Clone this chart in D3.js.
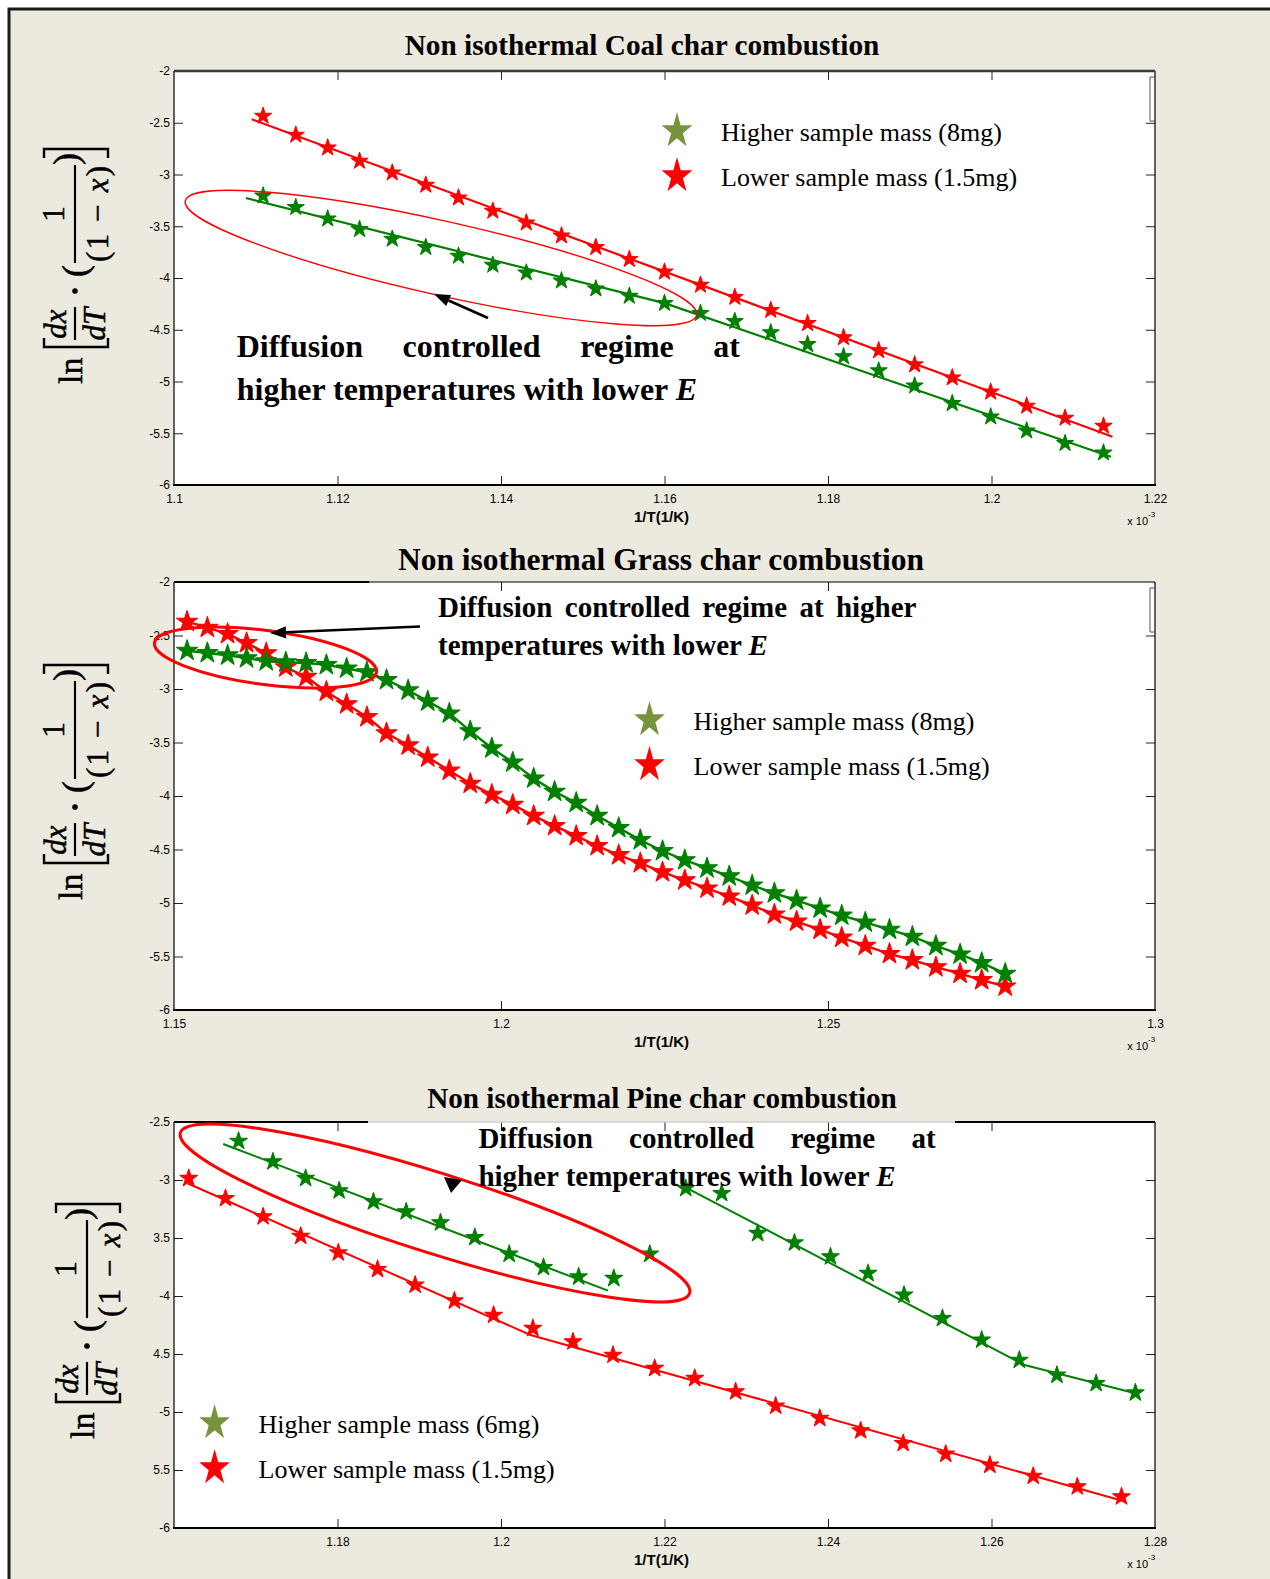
<!DOCTYPE html>
<html>
<head>
<meta charset="utf-8">
<script src="https://cdn.jsdelivr.net/npm/d3@7"></script>
<style>
  body { margin: 0; background: #fff; }
  svg { display: block; }
</style>
</head>
<body>
<svg id="fig" width="1270" height="1579"></svg>
<script>
// ---------- Coal char (x in 1e-3 1/K) ----------
const coalX = [1.1109, 1.1149, 1.1188, 1.1227, 1.1267, 1.1308, 1.1348, 1.1390, 1.1431, 1.1474, 1.1516, 1.1557,
               1.1600, 1.1644, 1.1686, 1.1730, 1.1775, 1.1819, 1.1862, 1.1906, 1.1952, 1.1999, 1.2043, 1.2090, 1.2137];
const coalHigh = [-3.205, -3.317, -3.427, -3.529, -3.623, -3.703, -3.787, -3.874, -3.949, -4.026, -4.103, -4.174,
                  -4.243, -4.340, -4.418, -4.526, -4.641, -4.759, -4.895, -5.041, -5.211, -5.340, -5.475, -5.597, -5.688];
const coalLow = [-2.435, -2.618, -2.741, -2.870, -2.983, -3.101, -3.224, -3.353, -3.466, -3.591, -3.703, -3.819,
                 -3.941, -4.068, -4.185, -4.311, -4.438, -4.574, -4.700, -4.837, -4.963, -5.100, -5.236, -5.353, -5.430];
const coalFitHighX = [1.1088, 1.1600, 1.2146];
const coalFitHigh = [-3.227, -4.243, -5.727];
const coalFitLowX = [1.1095, 1.2148];
const coalFitLow = [-2.467, -5.534];
const coalXTicks = [1.1, 1.12, 1.14, 1.16, 1.18, 1.2, 1.22];
const coalYTicks = [-6, -5.5, -5, -4.5, -4, -3.5, -3, -2.5, -2];

// ---------- Grass char ----------
const grassX = [1.1520, 1.1551, 1.1582, 1.1611, 1.1641, 1.1671, 1.1702, 1.1733, 1.1764, 1.1795, 1.1825, 1.1858, 1.1888,
                1.1921, 1.1953, 1.1986, 1.2018, 1.2050, 1.2082, 1.2115, 1.2147, 1.2180, 1.2213, 1.2247, 1.2281, 1.2315,
                1.2349, 1.2384, 1.2418, 1.2452, 1.2488, 1.2521, 1.2557, 1.2594, 1.2629, 1.2665, 1.2702, 1.2735, 1.2771];
const grassHigh = [-2.642, -2.663, -2.685, -2.712, -2.740, -2.750, -2.757, -2.775, -2.808, -2.843, -2.915, -3.012, -3.115,
                   -3.228, -3.394, -3.554, -3.686, -3.836, -3.959, -4.063, -4.185, -4.298, -4.411, -4.514, -4.599, -4.675,
                   -4.750, -4.835, -4.909, -4.976, -5.050, -5.117, -5.182, -5.249, -5.314, -5.400, -5.480, -5.560, -5.660];
const grassLow = [-2.370, -2.426, -2.485, -2.570, -2.665, -2.797, -2.886, -3.025, -3.142, -3.262, -3.413, -3.526, -3.639,
                  -3.762, -3.884, -3.987, -4.081, -4.185, -4.279, -4.373, -4.467, -4.552, -4.627, -4.712, -4.787, -4.863,
                  -4.938, -5.022, -5.107, -5.173, -5.249, -5.323, -5.399, -5.475, -5.533, -5.600, -5.660, -5.720, -5.780];
const grassXTicks = [1.15, 1.2, 1.25, 1.3];
const grassYTicks = [-6, -5.5, -5, -4.5, -4, -3.5, -3, -2.5, -2];

// ---------- Pine char ----------
const pineHighX = [1.1679, 1.1721, 1.1761, 1.1802, 1.1844, 1.1884, 1.1926, 1.1968, 1.2010, 1.2052, 1.2095, 1.2138, 1.2182,
                   1.2226, 1.2270, 1.2314, 1.2359, 1.2403, 1.2449, 1.2493, 1.2540, 1.2588, 1.2634, 1.2680, 1.2728, 1.2776];
const pineHigh = [-2.664, -2.842, -2.985, -3.092, -3.187, -3.273, -3.368, -3.494, -3.638, -3.753, -3.834, -3.847, -3.638,
                  -3.072, -3.115, -3.459, -3.541, -3.661, -3.804, -3.991, -4.192, -4.379, -4.552, -4.681, -4.753, -4.834];
const pineLowX = [1.1618, 1.1663, 1.1709, 1.1755, 1.1801, 1.1849, 1.1895, 1.1943, 1.1991, 1.2039, 1.2088, 1.2137,
                  1.2188, 1.2237, 1.2287, 1.2336, 1.2390, 1.2440, 1.2492, 1.2544, 1.2598, 1.2651, 1.2705, 1.2759];
const pineLow = [-2.985, -3.158, -3.316, -3.483, -3.627, -3.770, -3.905, -4.041, -4.164, -4.278, -4.394, -4.509,
                 -4.623, -4.709, -4.825, -4.948, -5.054, -5.161, -5.270, -5.362, -5.457, -5.552, -5.644, -5.730];
const pineFitHigh1X = [1.16602, 1.21309];
const pineFitHigh1 = [-2.690, -3.954];
const pineFitHigh2X = [1.22257, 1.26405, 1.27792];
const pineFitHigh2 = [-3.063, -4.595, -4.845];
const pineFitLowX = [1.16165, 1.20361, 1.27644];
const pineFitLow = [-3.028, -4.336, -5.773];
const pineXTicks = [1.16, 1.18, 1.2, 1.22, 1.24, 1.26, 1.28];
const pineYTicks = [-6, -5.5, -5, -4.5, -4, -3.5, -3, -2.5];
const pineYTickLabels = ["-6", "5.5", "-5", "4.5", "-4", "3.5", "-3", "-2.5"];

// ---------- styling ----------
const SERIF = "'Liberation Serif', 'Times New Roman', serif";
const SANS = "'Liberation Sans', Arial, sans-serif";
const GREEN = "#008000", RED = "#ff0000", OLIVE = "#77933c";
const X0 = 174, X1 = 1155;

const svg = d3.select("#fig");
svg.append("rect").attr("x", 8).attr("y", 8).attr("width", 1262).attr("height", 1571).attr("fill", "#ECE9DF");
svg.append("path").attr("d", "M9,1579 V9 H1270").attr("fill", "none").attr("stroke", "#1a1a1a").attr("stroke-width", 3);

const zip = (xs, ys) => xs.map((v, i) => [v, ys[i]]);
const starPath = r => d3.symbol().type(d3.symbolStar).size(r * r / 0.8908)();

function panel(cfg) {
  const x = d3.scaleLinear().domain(cfg.xDomain).range([X0, X1]);
  const y = d3.scaleLinear().domain(cfg.yDomain).range([cfg.bottom, cfg.top]);
  const g = svg.append("g");
  g.append("rect").attr("x", X0).attr("y", cfg.top).attr("width", X1 - X0).attr("height", cfg.bottom - cfg.top)
    .attr("fill", "#fff");

  const styleAxis = a => {
    a.select(".domain").remove();
    a.selectAll(".tick line").attr("stroke", "#222").attr("stroke-width", 1);
    a.selectAll(".tick text").attr("font-family", SANS).attr("font-size", 12).attr("fill", "#000");
  };
  const inner = cfg.xTicks.filter(v => v > cfg.xDomain[0] + 1e-9 && v < cfg.xDomain[1] - 1e-9);
  g.append("g").attr("transform", `translate(0,${cfg.bottom})`)
    .call(d3.axisBottom(x).tickValues(inner).tickSizeInner(-9).tickSizeOuter(0).tickFormat(""))
    .call(styleAxis);
  g.append("g").attr("transform", `translate(0,${cfg.top})`)
    .call(d3.axisTop(x).tickValues(inner).tickSizeInner(-9).tickSizeOuter(0).tickFormat(""))
    .call(styleAxis);
  g.append("g").attr("transform", `translate(0,${cfg.bottom})`)
    .call(d3.axisBottom(x).tickValues(cfg.xLabels).tickSize(0).tickPadding(9.5)
      .tickFormat(d => String(+d.toFixed(2))))
    .call(styleAxis);
  const yInner = cfg.yTicks.filter(v => v > cfg.yDomain[0] + 1e-9 && v < cfg.yDomain[1] - 1e-9);
  g.append("g").attr("transform", `translate(${X0},0)`)
    .call(d3.axisLeft(y).tickValues(yInner).tickSizeInner(-9).tickSizeOuter(0).tickFormat(""))
    .call(styleAxis);
  g.append("g").attr("transform", `translate(${X1},0)`)
    .call(d3.axisRight(y).tickValues(yInner).tickSizeInner(-9).tickSizeOuter(0).tickFormat(""))
    .call(styleAxis);
  g.append("g").attr("transform", `translate(${X0},0)`)
    .call(d3.axisLeft(y).tickValues(cfg.yTicks).tickSize(0).tickPadding(4)
      .tickFormat((d, i) => cfg.yTickLabels ? cfg.yTickLabels[i] : String(d)))
    .call(styleAxis);

  // axis caption and exponent
  g.append("text").attr("x", (X0 + X1) / 2 - 3).attr("y", cfg.bottom + 37).attr("text-anchor", "middle")
    .attr("font-family", SANS).attr("font-weight", "bold").attr("font-size", 15).text("1/T(1/K)");
  g.append("text").attr("x", X1 - 7).attr("y", cfg.bottom + 40).attr("text-anchor", "end")
    .attr("font-family", SANS).attr("font-size", 11).text("x 10");
  g.append("text").attr("x", X1 - 7).attr("y", cfg.bottom + 32).attr("font-family", SANS).attr("font-size", 8)
    .text("-3");

  // title
  svg.append("text").attr("x", cfg.titleX).attr("y", cfg.titleY).attr("text-anchor", "middle")
    .attr("font-family", SERIF).attr("font-weight", "bold").attr("font-size", cfg.titleSize).text(cfg.title);

  yLabel(cfg.labelCx, cfg.labelCy);
  return { g, x, y };
}

function borders(g, cfg, topStyle) {
  const line = (x1, y1, x2, y2, c, w) => g.append("line").attr("x1", x1).attr("y1", y1).attr("x2", x2).attr("y2", y2)
    .attr("stroke", c).attr("stroke-width", w);
  line(X0, cfg.top, X0, cfg.bottom + 1, "#000", 1.2);
  line(X1, cfg.top, X1, cfg.bottom + 1, "#000", 1.2);
  line(X0 - 1, cfg.bottom, X1 + 1, cfg.bottom, "#000", 2.2);
  topStyle.forEach(s => line(s[0], cfg.top, s[1], cfg.top, s[2], s[3]));
}

// ln[ dx/dT · ( 1/(1-x) ) ] written along the vertical axis
function yLabel(cx, cy) {
  const g = svg.append("g").attr("transform", `translate(${cx},${cy}) rotate(-90)`)
    .attr("font-family", SERIF).attr("fill", "#000").attr("stroke", "#000").attr("stroke-width", 0.5);
  g.append("text").attr("x", 1).attr("y", 7).attr("font-size", 34).text("ln");
  const br = (d) => g.append("path").attr("d", d).attr("fill", "none").attr("stroke", "#000").attr("stroke-width", 2.4);
  br("M47,-31 H38 V33 H47");
  g.append("text").attr("x", 61).attr("y", -9).attr("text-anchor", "middle").attr("font-size", 31)
    .attr("font-style", "italic").text("dx");
  g.append("line").attr("x1", 45).attr("x2", 78).attr("y1", 0).attr("y2", 0).attr("stroke", "#000").attr("stroke-width", 2.2);
  g.append("text").attr("x", 61).attr("y", 30).attr("text-anchor", "middle").attr("font-size", 31)
    .attr("font-style", "italic").text("dT");
  g.append("circle").attr("cx", 94).attr("cy", 0).attr("r", 2.6);
  g.append("text").attr("x", 114).attr("y", 12).attr("text-anchor", "middle").attr("font-size", 36).text("(");
  g.append("line").attr("x1", 122).attr("x2", 220).attr("y1", 0).attr("y2", 0).attr("stroke", "#000").attr("stroke-width", 2.2);
  g.append("text").attr("x", 171).attr("y", -11).attr("text-anchor", "middle").attr("font-size", 31).text("1");
  const den = g.append("text").attr("x", 171).attr("y", 33).attr("text-anchor", "middle").attr("font-size", 31)
    .attr("textLength", 96).attr("lengthAdjust", "spacing");
  den.append("tspan").text("(1 \u2212 ");
  den.append("tspan").attr("font-style", "italic").text("x");
  den.append("tspan").text(")");
  g.append("text").attr("x", 226).attr("y", 3).attr("text-anchor", "middle").attr("font-size", 36).text(")");
  br("M227,-31 H236 V33 H227");
}

function series(p, xs, ys, color, r) {
  p.g.append("g").selectAll("path").data(zip(xs, ys)).join("path")
    .attr("transform", d => `translate(${p.x(d[0])},${p.y(d[1])})`)
    .attr("d", starPath(r)).attr("fill", color).attr("stroke", color).attr("stroke-width", 1.1)
    .attr("stroke-linejoin", "round");
}
function fitLine(p, xs, ys, color, w) {
  p.g.append("path").datum(zip(xs, ys))
    .attr("d", d3.line().x(d => p.x(d[0])).y(d => p.y(d[1])))
    .attr("fill", "none").attr("stroke", color).attr("stroke-width", w).attr("stroke-linejoin", "round");
}
function justified(words, xa, xb, yb, size) {
  const t = svg.append("g").attr("font-family", SERIF).attr("font-weight", "bold").attr("font-size", size);
  const nodes = words.map(w => t.append("text").attr("y", yb).text(w));
  const widths = nodes.map(n => n.node().getComputedTextLength());
  const gap = (xb - xa - d3.sum(widths)) / (words.length - 1);
  let cx = xa;
  nodes.forEach((n, i) => { n.attr("x", cx); cx += widths[i] + gap; });
}
function lineWithE(text, xa, yb, size) {
  const t = svg.append("text").attr("x", xa).attr("y", yb).attr("font-family", SERIF).attr("font-weight", "bold")
    .attr("font-size", size);
  t.append("tspan").text(text);
  t.append("tspan").attr("font-style", "italic").text("E");
}
function legend(x, y, entries) {
  entries.forEach((e, i) => {
    svg.append("path").attr("transform", `translate(${x},${y + i * 45}) scale(0.85,1)`)
      .attr("d", starPath(19)).attr("fill", e[1]);
    svg.append("text").attr("x", x + 44).attr("y", y + i * 45 + 10).attr("font-family", SERIF).attr("font-size", 26)
      .text(e[0]);
  });
}
function arrow(x1, y1, x2, y2, w, head) {
  const a = Math.atan2(y2 - y1, x2 - x1);
  const bx = x2 - head * Math.cos(a), by = y2 - head * Math.sin(a);
  svg.append("line").attr("x1", x1).attr("y1", y1).attr("x2", bx).attr("y2", by).attr("stroke", "#000").attr("stroke-width", w);
  const px = Math.sin(a) * head * 0.38, py = -Math.cos(a) * head * 0.38;
  svg.append("path").attr("d", `M${x2},${y2} L${bx + px},${by + py} L${bx - px},${by - py} Z`).attr("fill", "#000");
}

// ================= Panel 1: Coal =================
const c1 = { xDomain: [1.1, 1.22], yDomain: [-6, -2], top: 71, bottom: 485, xTicks: coalXTicks, xLabels: coalXTicks,
  yTicks: coalYTicks, title: "Non isothermal Coal char combustion", titleSize: 29.3, titleX: 642, titleY: 55,
  labelCx: 75, labelCy: 385 };
const p1 = panel(c1);
fitLine(p1, coalFitLowX, coalFitLow, RED, 2.2);
fitLine(p1, coalFitHighX, coalFitHigh, GREEN, 2.2);
series(p1, coalX, coalLow, RED, 8.8);
series(p1, coalX, coalHigh, GREEN, 8.8);
borders(p1.g, c1, [[X0, X1, "#3a3a3a", 2.4]]);
p1.g.append("path").attr("d", "M1155,77 H1150 V121 H1155").attr("fill", "none").attr("stroke", "#555").attr("stroke-width", 1);
svg.append("ellipse").attr("transform", "translate(441,258) rotate(12.6)").attr("rx", 262).attr("ry", 37)
  .attr("fill", "none").attr("stroke", RED).attr("stroke-width", 1.4);
arrow(488, 318, 434, 294, 2.6, 16);
justified(["Diffusion", "controlled", "regime", "at"], 236.7, 740, 357, 32);
lineWithE("higher temperatures with lower ", 236.7, 400, 32);
legend(677, 131, [["Higher sample mass (8mg)", OLIVE], ["Lower sample mass (1.5mg)", RED]]);

// ================= Panel 2: Grass =================
const c2 = { xDomain: [1.15, 1.3], yDomain: [-6, -2], top: 582, bottom: 1010, xTicks: grassXTicks, xLabels: grassXTicks,
  yTicks: grassYTicks, title: "Non isothermal Grass char combustion", titleSize: 31.5, titleX: 661, titleY: 570,
  labelCx: 75, labelCy: 901 };
const p2 = panel(c2);
fitLine(p2, grassX, grassLow, RED, 2.4);
fitLine(p2, grassX, grassHigh, GREEN, 2.4);
series(p2, grassX, grassLow, RED, 11);
series(p2, grassX, grassHigh, GREEN, 11);
borders(p2.g, c2, [[X0, 369, "#000", 2.2], [369, X1, "#000", 1.2]]);
p2.g.append("path").attr("d", "M1155,588 H1150 V632 H1155").attr("fill", "none").attr("stroke", "#555").attr("stroke-width", 1);
svg.append("ellipse").attr("transform", "translate(265.5,657.5) rotate(7.5)").attr("rx", 112).attr("ry", 27)
  .attr("fill", "none").attr("stroke", RED).attr("stroke-width", 3);
arrow(420, 626.5, 270, 633, 2.4, 16);
justified(["Diffusion", "controlled", "regime", "at", "higher"], 438, 916.5, 617, 29);
lineWithE("temperatures with lower ", 438, 655, 29);
legend(649.5, 720, [["Higher sample mass (8mg)", OLIVE], ["Lower sample mass (1.5mg)", RED]]);

// ================= Panel 3: Pine =================
const c3 = { xDomain: [1.16, 1.28], yDomain: [-6, -2.5], top: 1122, bottom: 1528, xTicks: pineXTicks,
  xLabels: pineXTicks.slice(1), yTicks: pineYTicks, yTickLabels: pineYTickLabels,
  title: "Non isothermal Pine char combustion", titleSize: 29.2, titleX: 662, titleY: 1108, labelCx: 87, labelCy: 1440 };
const p3 = panel(c3);
fitLine(p3, pineFitLowX, pineFitLow, RED, 2);
fitLine(p3, pineFitHigh1X, pineFitHigh1, GREEN, 2);
fitLine(p3, pineFitHigh2X, pineFitHigh2, GREEN, 2);
series(p3, pineLowX, pineLow, RED, 9.2);
series(p3, pineHighX, pineHigh, GREEN, 9.2);
borders(p3.g, c3, [[X0, 368, "#000", 2], [368, 955, "#cfcfcf", 1.5], [955, X1, "#000", 2]]);
svg.append("ellipse").attr("transform", "translate(435,1213) rotate(17.5)").attr("rx", 267).attr("ry", 40)
  .attr("fill", "none").attr("stroke", RED).attr("stroke-width", 3);
svg.append("path").attr("d", "M451,1193 L444,1177 L462,1180 Z").attr("fill", "#000");
justified(["Diffusion", "controlled", "regime", "at"], 478.4, 935.6, 1148, 29);
lineWithE("higher temperatures with lower ", 478.4, 1186, 29);
legend(214.6, 1423, [["Higher sample mass (6mg)", OLIVE], ["Lower sample mass (1.5mg)", RED]]);
</script>
</body>
</html>
